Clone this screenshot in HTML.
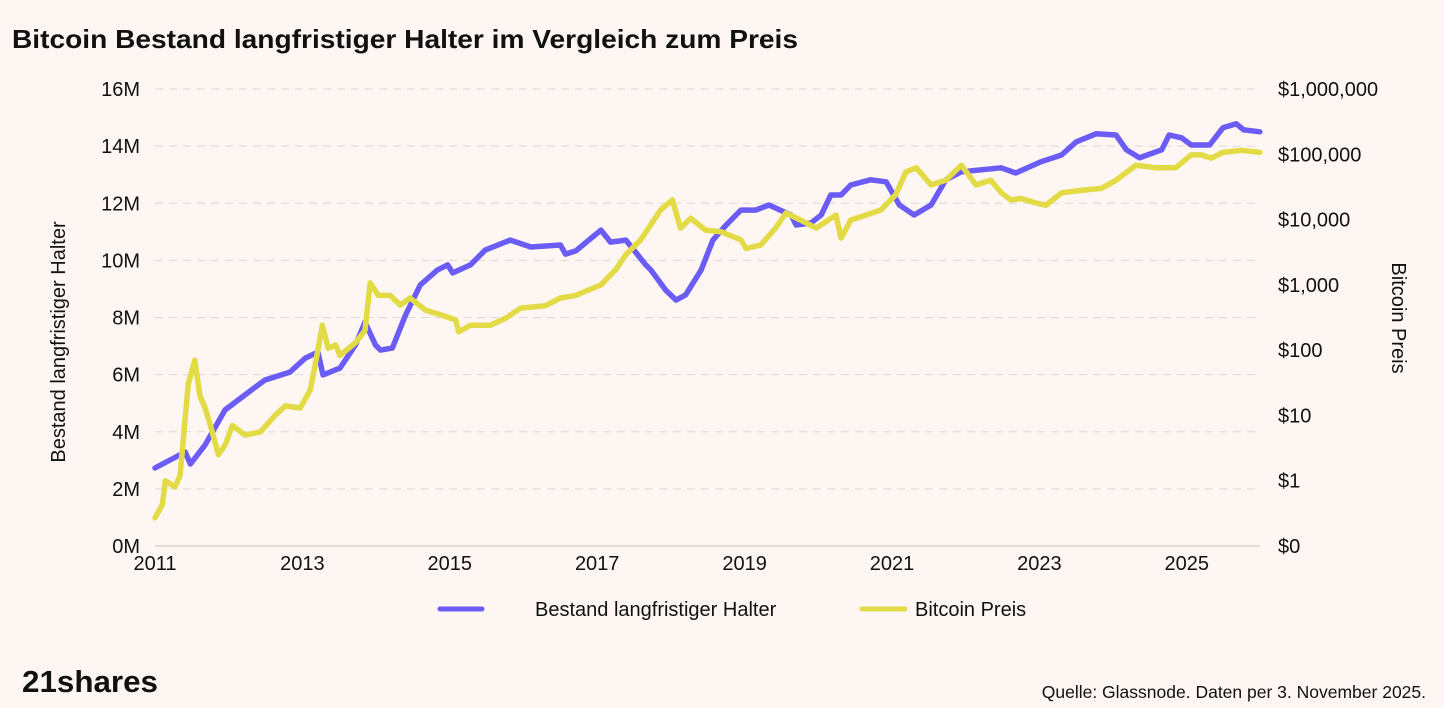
<!DOCTYPE html>
<html><head><meta charset="utf-8"><style>
body{margin:0;background:#fdf6f3;font-family:"Liberation Sans",sans-serif;}
svg{display:block}
</style></head><body>
<svg width="1444" height="708">
<rect width="1444" height="708" fill="#fdf6f3"/>
<text x="12" y="48" font-size="26" font-weight="bold" fill="#111" textLength="786" lengthAdjust="spacingAndGlyphs">Bitcoin Bestand langfristiger Halter im Vergleich zum Preis</text>
<g id="grid"></g><g id="axes"></g><g id="series"></g>
<text transform="translate(65,342) rotate(-90)" text-anchor="middle" font-size="20" fill="#111">Bestand langfristiger Halter</text>
<text transform="translate(1392,318) rotate(90)" text-anchor="middle" font-size="20" fill="#111">Bitcoin Preis</text>
<g>
<line x1="440" y1="609" x2="482" y2="609" stroke="#6b5cf6" stroke-width="5" stroke-linecap="round"/>
<text x="535" y="616" font-size="20" fill="#111">Bestand langfristiger Halter</text>
<line x1="862" y1="609" x2="905" y2="609" stroke="#e3db45" stroke-width="5" stroke-linecap="round"/>
<text x="915" y="616" font-size="20" fill="#111">Bitcoin Preis</text>
</g>
<text x="22" y="692" font-size="31" font-weight="bold" fill="#111" textLength="136" lengthAdjust="spacingAndGlyphs">21shares</text>
<text x="1426" y="698" text-anchor="end" font-size="17.5" fill="#111">Quelle: Glassnode. Daten per 3. November 2025.</text>
</svg>
<script>
const lthYears=[2011.0,2011.41,2011.48,2011.68,2011.95,2012.22,2012.49,2012.83,2013.04,2013.21,2013.28,2013.51,2013.72,2013.85,2013.99,2014.06,2014.22,2014.40,2014.60,2014.83,2014.97,2015.04,2015.28,2015.48,2015.82,2016.10,2016.50,2016.57,2016.71,2017.05,2017.18,2017.39,2017.66,2017.73,2017.93,2018.07,2018.20,2018.41,2018.57,2018.75,2018.95,2019.15,2019.33,2019.63,2019.70,2019.90,2020.04,2020.17,2020.31,2020.44,2020.71,2020.92,2021.10,2021.30,2021.53,2021.73,2021.94,2022.21,2022.48,2022.68,2023.02,2023.30,2023.50,2023.77,2024.04,2024.18,2024.36,2024.66,2024.76,2024.93,2025.06,2025.31,2025.49,2025.67,2025.77,2025.99];
const lthValues=[2.73,3.29,2.87,3.54,4.76,5.29,5.81,6.09,6.58,6.79,5.99,6.23,7.04,7.84,7.04,6.86,6.93,8.09,9.14,9.66,9.84,9.56,9.84,10.36,10.71,10.47,10.54,10.22,10.33,11.06,10.64,10.71,9.84,9.66,8.96,8.61,8.79,9.66,10.71,11.24,11.76,11.76,11.94,11.59,11.24,11.31,11.59,12.29,12.29,12.64,12.82,12.75,11.94,11.59,11.94,12.82,13.10,13.17,13.24,13.06,13.45,13.69,14.15,14.43,14.39,13.87,13.59,13.87,14.39,14.29,14.04,14.04,14.64,14.78,14.57,14.50];
const priceYears=[2011.0,2011.10,2011.14,2011.27,2011.34,2011.45,2011.54,2011.61,2011.68,2011.77,2011.86,2011.95,2012.05,2012.22,2012.43,2012.63,2012.77,2012.97,2013.11,2013.21,2013.27,2013.35,2013.45,2013.51,2013.72,2013.85,2013.92,2014.03,2014.19,2014.33,2014.46,2014.67,2014.87,2015.08,2015.12,2015.28,2015.55,2015.76,2015.96,2016.30,2016.50,2016.71,2017.05,2017.25,2017.39,2017.59,2017.86,2018.02,2018.13,2018.27,2018.47,2018.68,2018.95,2019.02,2019.22,2019.42,2019.56,2019.76,2019.97,2020.24,2020.31,2020.44,2020.85,2021.05,2021.19,2021.33,2021.53,2021.73,2021.94,2022.14,2022.34,2022.48,2022.61,2022.75,2022.95,2023.09,2023.30,2023.57,2023.84,2024.04,2024.31,2024.58,2024.85,2025.06,2025.20,2025.33,2025.49,2025.74,2025.99];
const priceValues=[0.27,0.43,1.0,0.8,1.2,30,70,20,13,6,2.5,3.5,7,5,5.6,10,14,13,25,100,240,107,120,83,130,200,1070,690,690,490,630,410,350,290,190,240,240,310,440,480,630,690,1000,1700,2900,4900,14000,20000,7400,10500,6900,6500,4900,3600,4100,7400,12600,9800,7400,11700,5200,9800,14000,24000,54000,62000,34000,40000,68000,34000,40000,26000,20000,21000,18000,16600,25700,28000,30000,40000,68000,62000,62000,98000,98000,87000,107000,115000,107000];
const xTicks=[2011,2013,2015,2017,2019,2021,2023,2025];
const leftTicks=[0,2,4,6,8,10,12,14,16];
const rightTicks=[0.1,1,10,100,1000,10000,100000,1000000];
const rightLabels=["$0","$1","$10","$100","$1,000","$10,000","$100,000","$1,000,000"];

const NS="http://www.w3.org/2000/svg";
const X0=155,X1=1260,Y0=546,Y1=89;
const x=v=>X0+(v-2011)*73.7;
const yL=v=>Y0-(v/16)*(Y0-Y1);
const yR=v=>Y0-((Math.log10(v)+1)/7)*(Y0-Y1);
function mk(tag,attrs,parent){const e=document.createElementNS(NS,tag);for(const k in attrs)e.setAttribute(k,attrs[k]);parent.appendChild(e);return e;}
const grid=document.getElementById('grid'),axes=document.getElementById('axes'),ser=document.getElementById('series');
leftTicks.forEach(t=>{
  if(t>0){const g=mk('line',{x1:X0,x2:X1,y1:yL(t),y2:yL(t),stroke:'#dcd8d5','stroke-width':1,'stroke-dasharray':'8,6'},grid);
  
  }
  const tx=mk('text',{x:140,y:yL(t)+7,'text-anchor':'end','font-size':20,fill:'#111'},axes);
  tx.textContent=t+'M';
  
  
});
const base=mk('line',{x1:X0,x2:X1,y1:Y0,y2:Y0,stroke:'#d8d4d1','stroke-width':1.5},axes);


rightTicks.forEach((t,i)=>{
  const tx=mk('text',{x:1278,y:yR(t)+7,'font-size':20,fill:'#111'},axes);
  tx.textContent=rightLabels[i];
  
  
});
xTicks.forEach(t=>{
  const tx=mk('text',{x:x(t),y:570,'text-anchor':'middle','font-size':20,fill:'#111'},axes);
  tx.textContent=t;
  
  
});
const lp=mk('polyline',{points:lthYears.map((v,i)=>x(v).toFixed(1)+','+yL(lthValues[i]).toFixed(1)).join(' '),fill:'none',stroke:'#6b5cf6','stroke-width':5.5,'stroke-linejoin':'round','stroke-linecap':'round'},ser);


const pp=mk('polyline',{points:priceYears.map((v,i)=>x(v).toFixed(1)+','+yR(priceValues[i]).toFixed(1)).join(' '),fill:'none',stroke:'#e3db45','stroke-width':5.5,'stroke-linejoin':'round','stroke-linecap':'round'},ser);


</script>
</body></html>
